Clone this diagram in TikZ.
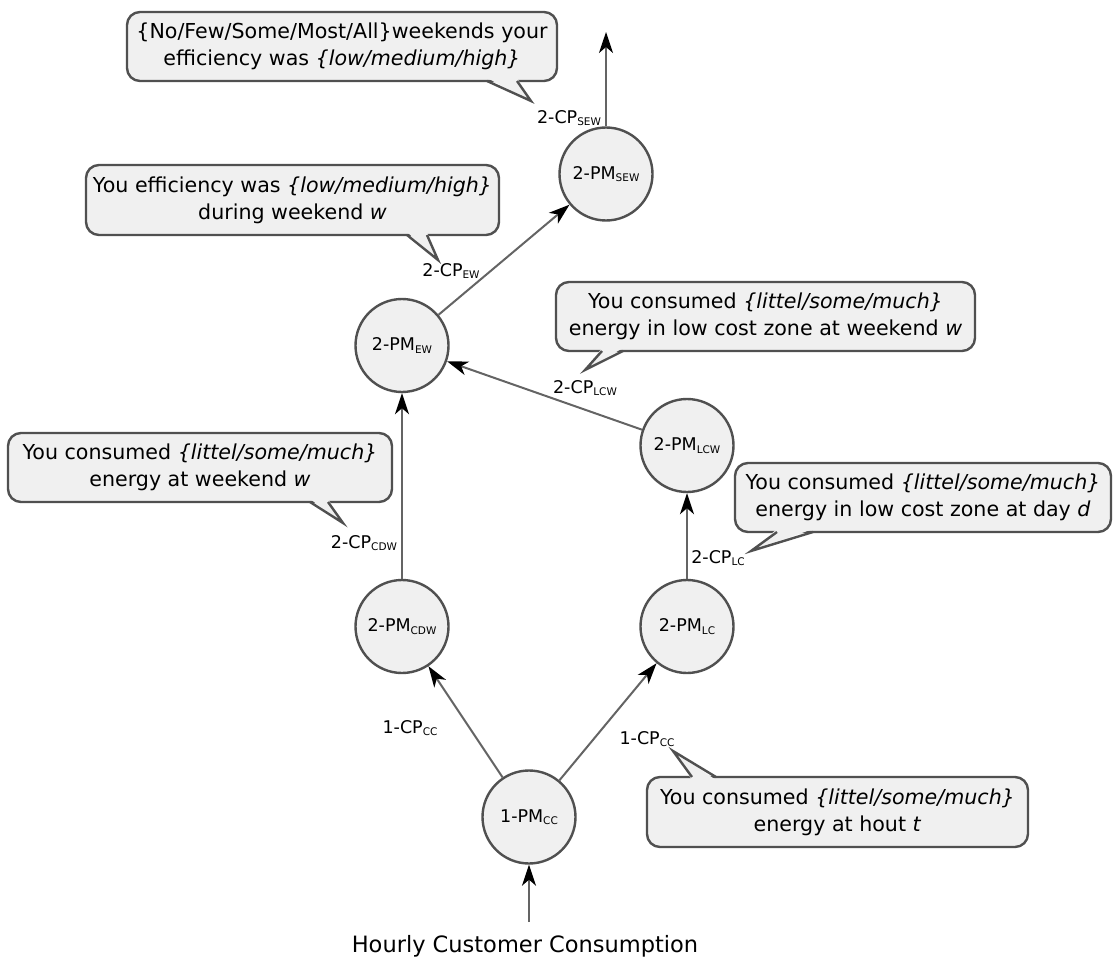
\documentclass[tikz,border=0pt]{standalone}
\usepackage{fontspec}
\setmainfont{DejaVu Sans}
\usetikzlibrary{arrows.meta}
\definecolor{boxfill}{RGB}{240,240,240}
\definecolor{boxline}{RGB}{80,80,80}
\definecolor{edgecol}{RGB}{100,100,100}
\newcommand{\lsub}[1]{\raisebox{-2.5pt}{\fontsize{10.5}{10.5}\selectfont #1}}
\tikzset{
  pm/.style={circle, draw=boxline, fill=boxfill, line width=2.4pt, minimum size=93pt, inner sep=0pt, font=\fontsize{17.5}{20}\selectfont},
  cp/.style={inner sep=0pt, font=\fontsize{17.5}{20}\selectfont},
  bubble/.style={draw=boxline, fill=boxfill, line width=2.4pt, rounded corners=13pt, align=center, inner sep=0pt, font=\fontsize{20.6}{27}\selectfont},
  tailfill/.style={fill=boxfill},
  tail/.style={draw=boxline, line width=2.4pt, line join=miter},
  link/.style={draw=edgecol, line width=2pt, -{Stealth[length=21pt,width=14pt,inset=6pt,color=black]}},
}
\begin{document}
\begin{tikzpicture}[x=1pt,y=-1pt]
\useasboundingbox (0,0) rectangle (1113,960);

% processing modules
\node[pm] (sew) at (606,174) {2-PM\lsub{SEW}};
\node[pm] (ew)  at (402,345.5) {2-PM\lsub{EW}};
\node[pm] (lcw) at (687,445.5) {2-PM\lsub{LCW}};
\node[pm] (cdw) at (402,626.5) {2-PM\lsub{CDW}};
\node[pm] (lc)  at (687,626.5) {2-PM\lsub{LC}};
\node[pm] (cc)  at (529,817) {1-PM\lsub{CC}};
\coordinate (top) at (606,32);
\coordinate (in) at (529,922);
\node[font=\fontsize{22.5}{26}\selectfont, inner sep=0pt] (input) at (525,946) {Hourly Customer Consumption};

% connectors
\draw[link] (in) -- (cc);
\draw[link] (cc) -- (cdw);
\draw[link] (cc) -- (lc);
\draw[link] (cdw) -- (ew);
\draw[link] (lc) -- (lcw);
\draw[link] (lcw) -- (ew);
\draw[link] (ew) -- (sew);
\draw[link] (sew) -- (top);

% connector labels
\node[cp] (lsew) at (569,118) {2-CP\lsub{SEW}};
\node[cp] (lew)  at (451,271) {2-CP\lsub{EW}};
\node[cp] (llcw) at (585,388) {2-CP\lsub{LCW}};
\node[cp] (lcdw) at (364,543) {2-CP\lsub{CDW}};
\node[cp] (llc)  at (718,558) {2-CP\lsub{LC}};
\node[cp] (lcca) at (410,728) {1-CP\lsub{CC}};
\node[cp] (lccb) at (647,739) {1-CP\lsub{CC}};

% callouts
\node[bubble, minimum width=430pt, minimum height=69pt] (b1) at (342,46.5)
  {\{No/Few/Some/Most/All\}weekends your\\efficiency was \textit{\{low/medium/high\}}};
\fill[tailfill] (487,78) -- (531,101) -- (517,78) -- cycle;
\draw[tail] (487,81) -- (531,101) -- (517,81);

\node[bubble, minimum width=413pt, minimum height=70pt] (b2) at (292.5,200)
  {You efficiency was \textit{\{low/medium/high\}}\\during weekend \textit{w}};
\fill[tailfill] (407,232) -- (438,260) -- (427,232) -- cycle;
\draw[tail] (407,235) -- (438,260) -- (427,235);

\node[bubble, minimum width=419pt, minimum height=69pt] (b3) at (765.5,316.5)
  {You consumed \textit{\{littel/some/much\}}\\energy in low cost zone at weekend \textit{w}};
\fill[tailfill] (602,348) -- (585,370) -- (623,348) -- cycle;
\draw[tail] (602,351) -- (585,370) -- (623,351);

\node[bubble, minimum width=384pt, minimum height=69pt] (b4) at (200,467.5)
  {You consumed \textit{\{littel/some/much\}}\\energy at weekend \textit{w}};
\fill[tailfill] (310,499) -- (343,523) -- (328,499) -- cycle;
\draw[tail] (310,502) -- (343,523) -- (328,502);

\node[bubble, minimum width=376pt, minimum height=69pt] (b5) at (923,497.5)
  {You consumed \textit{\{littel/some/much\}}\\energy in low cost zone at day \textit{d}};
\fill[tailfill] (777,529) -- (751,551) -- (813,529) -- cycle;
\draw[tail] (777,532) -- (751,551) -- (813,532);

\node[bubble, minimum width=381pt, minimum height=70pt] (b6) at (837.5,812)
  {You consumed \textit{\{littel/some/much\}}\\energy at hout \textit{t}};
\fill[tailfill] (692,780) -- (673,751) -- (716,780) -- cycle;
\draw[tail] (692,777) -- (673,751) -- (716,777);
\end{tikzpicture}
\end{document}
